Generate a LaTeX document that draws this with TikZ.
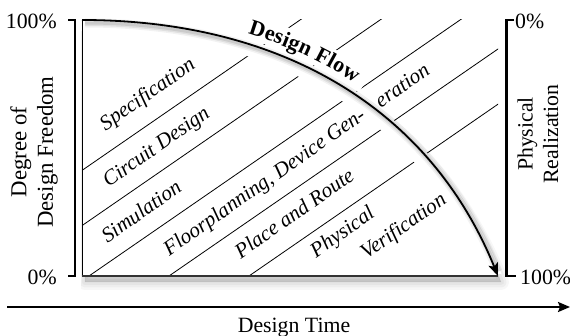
\documentclass[tikz,border=0pt]{standalone}
\usepackage{fontspec}
\setmainfont{Liberation Serif}
\usetikzlibrary{arrows.meta,decorations.text}
\begin{document}
\begin{tikzpicture}[x=1pt,y=-1pt,
  axisbar/.style={line width=2.4pt, black, line join=miter},
  lbl/.style={font=\fontsize{21.8}{25.5}\selectfont, inner sep=0pt},
  phase/.style={font=\fontsize{21.2}{25}\selectfont\itshape, rotate=35, inner sep=0pt},
  stripe/.style={line width=0.8pt, black},
]
\useasboundingbox (0,0) rectangle (570,336);

% drop shadow of the design-freedom region
\begin{scope}
  \clip (81,21) rectangle (570,305);
  \foreach \w/\o in {16/0.03,11/0.035,6/0.04,1/0.045}
    \path[fill=black, draw=black, fill opacity=\o, draw opacity=\o,
          line width=\w pt, line join=round, shift={(3,6)}]
      (82,20) -- (82,276) -- (498,276) .. controls (430,109) and (282,20) .. (82,20) -- cycle;
\end{scope}
\fill[white] (82,20) -- (82,276) -- (498,276) .. controls (430,109) and (282,20) .. (82,20) -- cycle;

% diagonal phase borders
\begin{scope}
  \clip (82,20) rectangle (498,276);
  \foreach \xb in {-71,9,89,169,249}
    \draw[stripe] (\xb,276) -- ++(400,-276);
\end{scope}

% white gap and shadow along the flow curve
\begin{scope}
  \clip (0,0) rectangle (570,274);
  \draw[white, line width=12pt, shift={(-3,5)}] (82,20) .. controls (282,20) and (430,109) .. (498,276);
  \draw[white, line width=8pt] (82,20) .. controls (282,20) and (430,109) .. (498,276);
\end{scope}
\foreach \w/\o in {9/0.05,6/0.07,3/0.09}
  \draw[black, opacity=\o, line width=\w pt, shift={(3,3)}, shorten >=8pt]
    (82,20) .. controls (282,20) and (430,109) .. (498,276);

% white knock-out band behind the "Design Flow" text
\begin{scope}
  \clip (243,46) -- (255,6) -- (378,62) -- (356,97) -- cycle;
  \draw[white, line width=24pt, shift={(7,-15.5)}]
    (82,20) .. controls (282,20) and (430,109) .. (498,276);
\end{scope}

% region edges
\draw[line width=0.9pt] (82,20) -- (82,276);
\draw[line width=2pt, black!80] (81.5,276) -- (498,276);

% flow curve
\draw[line width=1.8pt, -{Stealth[length=13pt, width=10pt, inset=3pt]}]
  (82,20) .. controls (282,20) and (430,109) .. (498,276);

% Design Flow text along the curve
\path[decorate, decoration={text along path,
      text={|\fontsize{22}{22}\selectfont\bfseries|Design Flow},
      text align={left indent=165pt}, raise=10pt}]
  (82,20) .. controls (282,20) and (430,109) .. (498,276);

% axes
\draw[axisbar] (68,20) -- (75,20) -- (75,276) -- (68,276);
\draw[axisbar] (514,20) -- (506.5,20) -- (506.5,276) -- (516,276);
\draw[line width=2pt, -{Stealth[length=12pt, width=10pt, inset=2pt]}] (7,307) -- (570,307);

% axis labels
\node[lbl, anchor=east] (l100) at (57,21) {100\%};
\node[lbl, anchor=east] (l0) at (57,277) {0\%};
\node[lbl, anchor=west] (r0) at (515,21) {0\%};
\node[lbl, anchor=west] (r100) at (520,277) {100\%};
\node[lbl] (time) at (294,327.5) {Design Time};
\node[lbl, font=\fontsize{22.8}{26.5}\selectfont, rotate=90, align=center] (freedom) at (34,152) {Degree of\\Design Freedom};
\node[lbl, rotate=90, align=center] (real) at (538,134) {Physical\\Realization};

% phases
\node[phase] (spec) at (148,95) {Specification};
\node[phase] (circ) at (157,148) {Circuit Design};
\node[phase] (sim) at (141,211) {Simulation};
\node[phase] (floor) at (265,183) {Floorplanning, Device Gen-};
\node[phase] (erat) at (402,85) {eration};
\node[phase] (pnr) at (294,213) {Place and Route};
\node[phase] (phys) at (343,233) {Physical};
\node[phase] (verif) at (404,227) {Verification};
\end{tikzpicture}
\end{document}
